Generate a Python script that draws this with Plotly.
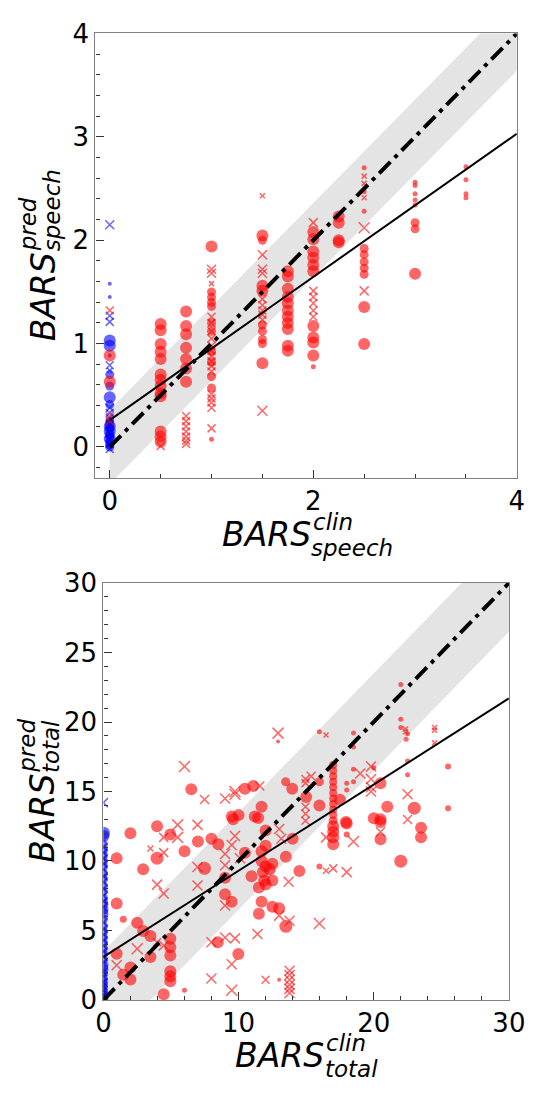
import plotly.graph_objects as go

# ---------------- TOP PANEL DATA (speech) ----------------
top_rc_x = [0, 0,
            0.5, 0.5, 0.5, 0.5, 0.5, 0.5, 0.5, 0.5, 0.5, 0.5, 0.5, 0.5, 0.5,
            0.75, 0.75, 0.75, 0.75, 0.75, 0.75, 0.75,
            1, 1, 1, 1, 1, 1, 1, 1, 1, 1, 1, 1,
            1.5, 1.5, 1.5, 1.5, 1.5, 1.5, 1.5, 1.5, 1.5,
            1.75, 1.75, 1.75, 1.75, 1.75, 1.75, 1.75, 1.75, 1.75, 1.75, 1.75,
            2, 2, 2, 2, 2, 2, 2, 2, 2, 2, 2,
            2.25, 2.25, 2.25, 2.25,
            2.5, 2.5, 2.5, 2.5, 2.5, 2.5, 2.5, 2.5, 2.5, 2.5,
            3, 3, 3, 3, 3, 3, 3, 3,
            3.5, 3.5, 3.5, 3.5]
top_rc_y = [0.885, 0.63,
            1.19, 1.13, 0.995, 0.92, 0.85, 0.70, 0.65, 0.59, 0.52, 0.49, 0.15, 0.10, 0.05,
            1.31, 1.17, 1.09, 0.96, 0.85, 0.76, 0.63,
            1.94, 1.50, 1.45, 1.40, 1.36, 1.20, 1.12, 0.92, 0.82, 0.68, 0.57, 0.075,
            2.045, 2.0, 1.56, 1.51, 1.18, 1.12, 1.04, 1.0, 0.81,
            1.70, 1.65, 1.53, 1.45, 1.39, 1.32, 1.26, 1.20, 1.14, 0.98, 0.93,
            2.08, 2.01, 1.89, 1.83, 1.76, 1.70, 1.17, 1.06, 1.01, 0.885, 0.775,
            2.23, 2.17, 2.0, 1.98,
            2.70, 2.47, 2.28, 1.92, 1.86, 1.79, 1.73, 1.67, 1.355, 0.995,
            2.56, 2.53, 2.45, 2.39, 2.34, 2.17, 2.11, 1.675,
            2.71, 2.585, 2.45, 2.41]
top_rc_s = [12, 12,
            12, 12, 12, 12, 12, 12, 12, 12, 12, 12, 12, 12, 12,
            12, 12, 12, 12, 12, 12, 12,
            12, 9, 9, 9, 9, 9, 9, 9, 9, 9, 9, 5,
            12, 9, 12, 12, 9, 9, 9, 9, 12,
            12, 12, 12, 12, 12, 12, 12, 12, 12, 12, 12,
            12, 12, 12, 12, 12, 12, 12, 12, 12, 12, 5,
            12, 12, 12, 12,
            5, 5, 5, 9, 9, 9, 9, 9, 12, 12,
            5, 5, 5, 5, 5, 9, 9, 12,
            5, 5, 5, 5]

top_rx_x = [0, 0, 0,
            0.5,
            0.75, 0.75, 0.75, 0.75, 0.75, 0.75, 0.75,
            1, 1, 1, 1, 1, 1, 1, 1, 1, 1, 1, 1, 1, 1, 1, 1, 1, 1,
            1.5, 1.5, 1.5, 1.5, 1.5, 1.5, 1.5, 1.5, 1.5, 1.5,
            2, 2, 2, 2, 2, 2,
            2.5, 2.5, 2.5, 2.5, 2.5]
top_rx_y = [1.32, 0.30, 0.25,
            0.01,
            0.30, 0.25, 0.20, 0.15, 0.10, 0.06, 0.03,
            1.72, 1.68, 1.58, 1.26, 1.20, 1.12, 1.05, 0.98, 0.93, 0.88, 0.83, 0.78, 0.73,
            0.51, 0.47, 0.43, 0.38, 0.18,
            2.43, 1.86, 1.72, 1.68, 1.43, 1.37, 1.32, 1.28, 1.23, 0.35,
            2.17, 1.51, 1.45, 1.39, 1.32, 1.26,
            2.62, 2.55, 2.41, 2.12, 1.51]
top_rx_s = [8, 8, 8,
            8,
            8, 8, 8, 8, 8, 8, 8,
            9, 9, 5, 8, 8, 8, 8, 8, 8, 8, 8, 8, 8, 8, 8, 8, 8, 8,
            5, 9, 9, 9, 8, 8, 8, 8, 8, 10,
            9, 8, 8, 8, 8, 8,
            5, 5, 5, 11, 9]

top_bc_y = [1.58, 1.45, 1.03, 0.98, 0.885, 0.70, 0.59, 0.48, 0.41,
            0.22, 0.20, 0.15, 0.12, 0.08, 0.05, 0.02, 0.0, 0.10, 0.18, 0.25]
top_bc_s = [4, 4, 12, 12, 4, 9, 9, 12, 9,
            9, 12, 12, 9, 12, 9, 9, 9, 9, 9, 8]
top_bc_x = [0] * len(top_bc_y)

top_bx_y = [2.15, 1.27, 1.21, 0.79, 0.74, 0.38, 0.33, 0.28, 0.22, 0.17, 0.13, 0.07, 0.03, -0.02]
top_bx_s = [9, 8, 8, 8, 5, 8, 8, 8, 8, 8, 8, 8, 8, 8]
top_bx_x = [0] * len(top_bx_y)

top_band_x = [0, 4, 4, 0]
top_band_y = [-0.36, 3.64, 4.36, 0.36]
top_id_x = [0, 4]
top_id_y = [0, 4]
top_fit_x = [0, 4]
top_fit_y = [0.26, 3.03]

# ---------------- BOTTOM PANEL DATA (total) ----------------
bot_rc = [
    (6.5, 15.16, 12), (10.47, 15.2, 12), (11.08, 15.4, 12), (13.48, 15.7, 9), (13.97, 15.2, 12),
    (12.92, 18.6, 4), (15.98, 19.3, 5), (15.98, 15.7, 9), (15.0, 14.6, 12), (15.98, 14.0, 12),
    (17, 16.9, 8), (17, 16.5, 8), (17, 16.1, 8), (17, 15.7, 8), (17, 15.3, 8), (17, 14.9, 8),
    (17, 14.5, 8), (17, 14.1, 8), (17, 13.7, 8), (17, 13.3, 8), (17, 12.9, 9), (17, 12.5, 12),
    (17, 12.1, 12), (17, 11.7, 12), (17, 11.2, 12),
    (17.5, 14.4, 12), (18.5, 19.2, 5), (18.5, 18.2, 5), (18.5, 16.6, 5), (18.5, 15.7, 5),
    (18.0, 15.6, 5), (18.0, 15.1, 5), (20.0, 16.7, 5), (20.5, 15.6, 12), (22.0, 22.7, 5),
    (22.0, 20.2, 5), (22.0, 19.6, 5), (22.5, 19.15, 5), (22.4, 18.75, 5), (22.5, 17.2, 5),
    (22.5, 16.2, 5), (25.5, 16.8, 6), (20.5, 13.0, 12), (21.0, 13.9, 12), (23.0, 13.8, 13),
    (25.5, 13.8, 6), (17.94, 12.8, 12),
    (3.97, 12.5, 12), (2.0, 12.0, 12), (4.95, 11.9, 12), (6.99, 11.4, 12), (7.99, 11.6, 12),
    (8.5, 11.2, 12), (6.0, 10.7, 12), (3.97, 10.2, 13), (0.98, 10.2, 12), (2.94, 9.4, 12),
    (7.48, 9.47, 13), (9.0, 8.8, 12), (10.47, 10.6, 12), (10.96, 8.9, 12),
    (11.7, 10.7, 12), (11.7, 10.0, 12), (12.0, 9.6, 12), (11.8, 9.2, 12), (12.3, 9.4, 12),
    (12.5, 9.8, 12), (11.9, 8.6, 12), (12.5, 8.6, 12), (11.5, 8.1, 12), (12.0, 8.3, 12),
    (11.7, 7.07, 12), (11.5, 6.2, 12), (12.5, 6.7, 12), (13.0, 6.6, 12), (13.5, 5.3, 13),
    (13.5, 10.3, 12), (14.0, 11.6, 12), (14.5, 9.28, 12), (15.98, 9.6, 6), (18.0, 12.7, 12),
    (18.0, 11.9, 6), (20.0, 13.07, 12), (20.5, 12.8, 12), (20.5, 11.57, 12), (22.0, 9.99, 13),
    (23.5, 12.4, 12), (23.5, 11.7, 12), (12.0, 11.1, 12), (12.0, 12.2, 12),
    (9.5, 13.2, 12), (10.0, 13.3, 12), (11.45, 13.1, 12), (11.7, 13.9, 12), (9.6, 13.0, 12),
    (11.2, 13.2, 12),
    (0.98, 6.95, 12), (1.47, 5.8, 7), (2.5, 5.55, 12), (2.94, 4.97, 12), (3.48, 4.6, 12),
    (4.95, 4.4, 12), (4.95, 3.8, 12), (4.95, 3.2, 12), (4.95, 2.06, 12), (4.95, 1.7, 12),
    (4.95, 1.35, 12), (3.48, 3.1, 12), (0.98, 3.33, 12), (2.0, 2.33, 12), (1.47, 1.82, 12),
    (2.0, 1.47, 12), (4.46, 0.42, 12), (6.0, 0.7, 5), (8.46, 4.15, 12), (9.98, 3.3, 12),
    (9.0, 7.6, 12), (9.49, 7.07, 12), (13.0, 1.45, 4),
]
bot_rc_x = [p[0] for p in bot_rc]
bot_rc_y = [p[1] for p in bot_rc]
bot_rc_s = [p[2] for p in bot_rc]

bot_rx = [
    (6.0, 16.8, 11), (7.48, 14.42, 9), (9.0, 14.5, 10), (9.73, 15.0, 11), (9.73, 14.8, 11),
    (11.57, 15.4, 9), (12.92, 19.2, 11), (14.95, 15.9, 8), (14.95, 15.6, 8), (14.95, 13.9, 8),
    (14.95, 13.4, 8), (14.95, 12.9, 8), (15.37, 16.1, 9), (16.47, 19.07, 5), (19.0, 16.3, 10),
    (19.8, 16.8, 10), (19.8, 15.9, 10), (19.8, 15.3, 10), (19.8, 15.0, 10), (22.35, 19.5, 5),
    (22.35, 19.3, 5), (22.5, 14.8, 10), (24.5, 19.6, 5), (24.5, 19.4, 5), (24.5, 18.5, 5),
    (22.5, 12.98, 9),
    (5.49, 12.6, 11), (5.49, 11.7, 11), (4.46, 11.7, 9), (6.96, 12.6, 10), (9.73, 11.8, 10),
    (9.49, 11.15, 10), (3.48, 10.9, 6), (4.46, 10.6, 9), (6.96, 9.57, 10), (9.0, 10.5, 10),
    (9.0, 9.7, 10), (10.1, 10.2, 10), (13.7, 8.5, 10), (13.0, 12.3, 10), (13.16, 11.6, 10),
    (16.47, 9.3, 6), (17.0, 9.47, 8), (15.98, 5.5, 11), (16.47, 11.7, 10), (18.5, 11.4, 11),
    (18.0, 9.2, 10), (20.5, 12.1, 9), (11.4, 4.74, 10), (3.97, 8.3, 10), (4.46, 7.66, 10),
    (3.97, 4.15, 8), (4.46, 3.92, 10), (2.5, 3.69, 11), (0.98, 2.5, 10), (7.99, 4.15, 10),
    (9.0, 4.5, 10), (9.73, 4.43, 10), (9.49, 2.57, 10), (7.99, 1.54, 10), (9.49, 0.7, 11),
    (12.0, 1.45, 8), (13.77, 2.1, 10), (13.77, 1.8, 10), (13.77, 1.45, 10), (13.77, 1.1, 10),
    (13.77, 0.8, 10), (13.77, 0.5, 10), (9.0, 6.8, 10), (6.96, 8.24, 10), (13.0, 6.07, 10),
    (13.77, 5.7, 10),
]
bot_rx_x = [p[0] for p in bot_rx]
bot_rx_y = [p[1] for p in bot_rx]
bot_rx_s = [p[2] for p in bot_rx]

bot_bc_y = [12.0, 11.8, 11.2, 10.8, 10.4, 10.0, 9.6, 9.1, 8.7, 8.2, 7.8, 7.3, 6.9, 6.5,
            6.2, 5.8, 5.3, 4.9, 4.5, 4.1, 3.7, 3.3, 2.9, 2.5, 2.2, 1.9, 1.5, 1.2, 0.9,
            0.6, 0.3, 0.1]
bot_bc_s = [13, 12, 9, 9, 9, 9, 9, 9, 9, 9, 9, 9, 10, 10,
            10, 9, 9, 9, 9, 9, 9, 9, 9, 10, 10, 9, 9, 9, 9,
            9, 10, 10]
bot_bc_x = [0] * len(bot_bc_y)

bot_bx_y = [14.2, 11.0, 10.6, 10.2, 9.8, 9.4, 8.9, 8.5, 8.0, 7.5, 7.1, 6.7, 5.6, 5.1,
            4.7, 4.3, 3.9, 3.5, 3.1, 2.7, 2.0, 1.7, 1.3, 1.0, 0.7, 0.4, 0.2]
bot_bx_s = [9, 8, 8, 8, 8, 8, 8, 8, 8, 8, 8, 8, 8, 8,
            8, 8, 8, 8, 8, 8, 8, 8, 8, 8, 8, 8, 8]
bot_bx_x = [0] * len(bot_bx_y)

bot_band_x = [0, 30, 30, 0]
bot_band_y = [-3.5, 26.5, 33.5, 3.5]
bot_id_x = [0, 30]
bot_id_y = [0, 30]
bot_fit_x = [0, 30]
bot_fit_y = [3.1, 21.7]

RED = "rgba(255,0,0,0.85)"
BLUE = "rgba(0,0,255,0.85)"
FONT = "DejaVu Sans"
W, H = 545, 1096

fig = go.Figure()


def add_panel(xa, ya, band_x, band_y, id_x, id_y, fit_x, fit_y,
              rc, rx, bc, bx):
    fig.add_trace(go.Scatter(x=band_x, y=band_y, fill="toself", mode="lines",
                             line=dict(width=0), fillcolor="#e4e4e4",
                             xaxis=xa, yaxis=ya, hoverinfo="skip"))
    for (xs, ys, ss, col, sym) in [(bc[0], bc[1], bc[2], BLUE, "circle"),
                                   (bx[0], bx[1], bx[2], BLUE, "x-thin"),
                                   (rc[0], rc[1], rc[2], RED, "circle"),
                                   (rx[0], rx[1], rx[2], RED, "x-thin")]:
        if sym == "circle":
            marker = dict(symbol="circle", size=ss, color=col, line=dict(width=0))
        else:
            marker = dict(symbol="x-thin", size=ss, color=col,
                          line=dict(width=1.5, color=col))
        fig.add_trace(go.Scatter(x=xs, y=ys, mode="markers", marker=marker,
                                 xaxis=xa, yaxis=ya))
    fig.add_trace(go.Scatter(x=id_x, y=id_y, mode="lines",
                             line=dict(color="black", width=4, dash="16px,6px,4px,6px"),
                             xaxis=xa, yaxis=ya))
    fig.add_trace(go.Scatter(x=fit_x, y=fit_y, mode="lines",
                             line=dict(color="black", width=2),
                             xaxis=xa, yaxis=ya))


add_panel("x", "y", top_band_x, top_band_y, top_id_x, top_id_y, top_fit_x, top_fit_y,
          (top_rc_x, top_rc_y, top_rc_s), (top_rx_x, top_rx_y, top_rx_s),
          (top_bc_x, top_bc_y, top_bc_s), (top_bx_x, top_bx_y, top_bx_s))
add_panel("x2", "y2", bot_band_x, bot_band_y, bot_id_x, bot_id_y, bot_fit_x, bot_fit_y,
          (bot_rc_x, bot_rc_y, bot_rc_s), (bot_rx_x, bot_rx_y, bot_rx_s),
          (bot_bc_x, bot_bc_y, bot_bc_s), (bot_bx_x, bot_bx_y, bot_bx_s))

axcol = "#808080"
common = dict(showgrid=False, zeroline=False, showline=True, linecolor=axcol,
              linewidth=1.3, mirror=True, ticks="inside", ticklen=8, tickwidth=1.3,
              tickcolor="#333333", tickfont=dict(family=FONT, size=26, color="black"))


def px2x(px):
    return px / W


def py2y(py):
    return 1 - py / H


fig.update_layout(
    width=W, height=H, margin=dict(l=0, r=0, t=0, b=0),
    paper_bgcolor="white", plot_bgcolor="white", showlegend=False,
    xaxis=dict(domain=[px2x(91.7), px2x(533.3)], range=[-0.14, 4], anchor="y",
               tickvals=[0, 2, 4],
               minor=dict(dtick=0.5, tick0=0, ticks="inside", ticklen=4, tickcolor="#333333"),
               **common),
    yaxis=dict(domain=[py2y(476), py2y(19)], range=[-0.3, 4], anchor="x",
               tickvals=[0, 1, 2, 3, 4],
               minor=dict(dtick=0.2, tick0=0, ticks="inside", ticklen=4, tickcolor="#333333"),
               **common),
    xaxis2=dict(domain=[px2x(100), px2x(525)], range=[0, 30], anchor="y2",
                tickvals=[0, 10, 20, 30],
                minor=dict(dtick=2, tick0=0, ticks="inside", ticklen=4, tickcolor="#333333"),
                **common),
    yaxis2=dict(domain=[py2y(1012.7), py2y(584)], range=[0, 30], anchor="x2",
                tickvals=[0, 5, 10, 15, 20, 25, 30],
                minor=dict(dtick=1, tick0=0, ticks="inside", ticklen=4, tickcolor="#333333"),
                **common),
)

ann = []


def txt(text, px, py, size, xanchor="center", yanchor="middle", angle=0):
    ann.append(dict(text=text, x=px2x(px), y=py2y(py), xref="paper", yref="paper",
                    xanchor=xanchor, yanchor=yanchor, showarrow=False, textangle=angle,
                    borderpad=0,
                    font=dict(family=FONT, size=size, color="black")))


# top x title
txt("<i>BARS</i>", 271, 534, 33)
txt("<i>clin</i>", 319, 521.5, 23, xanchor="left")
txt("<i>speech</i>", 317, 548, 23, xanchor="left")
# bottom x title
txt("<i>BARS</i>", 285, 1070, 33)
txt("<i>clin</i>", 332, 1057, 23, xanchor="left")
txt("<i>total</i>", 331, 1084, 23, xanchor="left")
# top y title
txt("<i>BARS</i>", 37, 290, 33, angle=-90)
txt("<i>pred</i>", 21, 244, 23, yanchor="bottom", angle=-90)
txt("<i>speech</i>", 46, 244, 23, yanchor="bottom", angle=-90)
# bottom y title
txt("<i>BARS</i>", 36, 826, 33, angle=-90)
txt("<i>pred</i>", 20, 780, 23, yanchor="bottom", angle=-90)
txt("<i>total</i>", 45, 780, 23, yanchor="bottom", angle=-90)

fig.update_layout(annotations=ann)
fig.write_html("out.html")
